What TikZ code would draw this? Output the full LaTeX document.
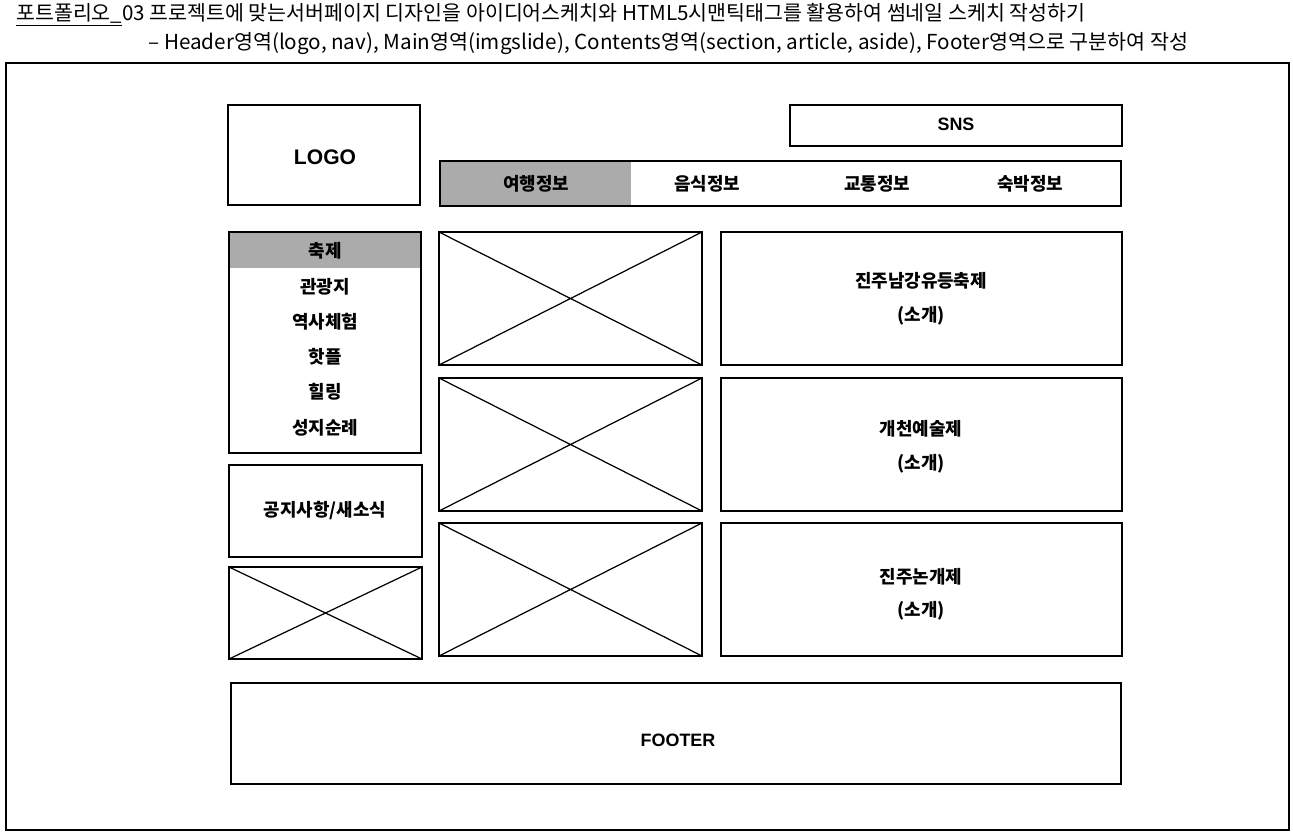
\documentclass[tikz,border=0pt]{standalone}
\usepackage{fontspec}
\setmainfont{Liberation Sans}
\newfontfamily\kr{Noto Sans CJK KR}
\definecolor{selgray}{RGB}{170,171,170}

\begin{document}
\begin{tikzpicture}[x=0.02cm,y=-0.02cm,
    wire/.style={line width=1.2pt},
    cross/.style={line width=0.7pt},
    lbl/.style={inner sep=0pt,font=\kr\bfseries\fontsize{10.2}{12}\selectfont},
    latin/.style={inner sep=0pt,font=\bfseries\fontsize{10.2}{12}\selectfont},
    head/.style={inner sep=0pt,anchor=west,font=\kr\fontsize{11.7}{13}\selectfont}]
  \useasboundingbox (0,0) rectangle (1293,835);

  % heading above the sheet
  \node[head] (title) at (16,15) {\underline{포트폴리오\_}03 프로젝트에 맞는서버페이지 디자인을 아이디어스케치와 HTML5시맨틱태그를 활용하여 썸네일 스케치 작성하기};
  \node[head,font=\kr\fontsize{11.75}{13}\selectfont] (subtitle) at (148,44) {– Header영역(logo, nav), Main영역(imgslide), Contents영역(section, article, aside), Footer영역으로 구분하여 작성};

  % sheet
  \draw[line width=0.9pt] (6,63) rectangle (1289,830);

  % header: logo, sns, nav
  \draw[wire] (228,105) rectangle (420,205);
  \node[latin,font=\bfseries\fontsize{12}{14}\selectfont] (logo) at (325,157) {LOGO};
  \draw[wire] (790,105) rectangle (1122,146);
  \node[latin] (sns) at (956,124) {SNS};
  \fill[selgray] (440,161) rectangle (631,206);
  \draw[wire] (440,161) rectangle (1121,206);
  \node[lbl] (nav1) at (536,184) {여행정보};
  \node[lbl] (nav2) at (707,184) {음식정보};
  \node[lbl] (nav3) at (877,184) {교통정보};
  \node[lbl] (nav4) at (1030,184) {숙박정보};

  % aside: menu, notice, banner
  \fill[selgray] (229,232) rectangle (421,268);
  \draw[wire] (229,232) rectangle (421,453);
  \foreach \y/\n/\txt in {251/m1/축제, 287/m2/관광지, 322/m3/역사체험, 357/m4/핫플, 392/m5/힐링, 428/m6/성지순례}
    \node[lbl] (\n) at (325,\y) {\txt};
  \draw[wire] (229,465) rectangle (422,557);
  \node[lbl] (notice) at (325,511) {공지사항/새소식};
  \draw[wire] (229,567) rectangle (422,659);
  \draw[cross] (229,567) -- (422,659) (229,659) -- (422,567);

  % contents: image + text rows
  \foreach \top/\bot/\ya/\yb/\n/\txt in {232/365/281/316/r1/진주남강유등축제, 378/511/429/464/r2/개천예술제, 523/656/577/611/r3/진주논개제}
  {
    \draw[wire] (439,\top) rectangle (702,\bot);
    \draw[cross] (439,\top) -- (702,\bot) (439,\bot) -- (702,\top);
    \draw[wire] (721,\top) rectangle (1122,\bot);
    \node[lbl] (\n) at (921,\ya) {\txt};
    \node[lbl] (\n s) at (921,\yb) {(소개)};
  }

  % footer
  \draw[wire] (231,683) rectangle (1121,784);
  \node[latin] (footer) at (678,740) {FOOTER};
\end{tikzpicture}
\end{document}
